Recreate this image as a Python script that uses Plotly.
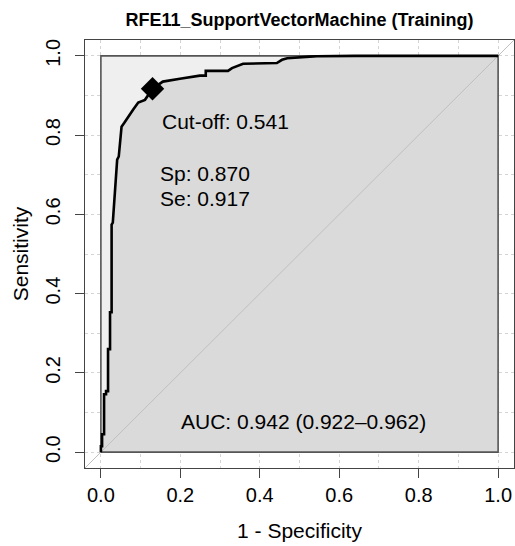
import plotly.graph_objects as go

# ---- data ----
fpr = [0.0, 0.0, 0.003, 0.003, 0.008, 0.008, 0.013, 0.013, 0.018, 0.018, 0.023, 0.023,
       0.027, 0.027, 0.030, 0.035, 0.038, 0.041, 0.045, 0.048, 0.052, 0.059, 0.068,
       0.081, 0.094, 0.111, 0.130, 0.156, 0.199, 0.224, 0.249, 0.264, 0.264, 0.320,
       0.330, 0.358, 0.393, 0.443, 0.456, 0.469, 0.526, 0.544, 0.640, 1.0]
tpr = [0.0, 0.015, 0.015, 0.045, 0.045, 0.146, 0.146, 0.154, 0.154, 0.26, 0.26, 0.353,
       0.353, 0.574, 0.579, 0.662, 0.705, 0.738, 0.746, 0.788, 0.821, 0.831, 0.846,
       0.864, 0.882, 0.889, 0.917, 0.935, 0.942, 0.946, 0.950, 0.950, 0.962, 0.962,
       0.969, 0.980, 0.981, 0.982, 0.990, 0.994, 0.998, 0.999, 1.0, 1.0]
cutoff = 0.541
sp = 0.870
se = 0.917
auc = 0.942
auc_ci = (0.922, 0.962)
title = "RFE11_SupportVectorMachine (Training)"
tick_vals = [0.0, 0.2, 0.4, 0.6, 0.8, 1.0]
tick_text = ["0.0", "0.2", "0.4", "0.6", "0.8", "1.0"]

AX = [-0.04, 1.04]
FONT = "Liberation Sans, Arial, sans-serif"
DARK = "#444444"

fig = go.Figure()

# max AUC square (light)
fig.add_trace(go.Scatter(x=[0, 1, 1, 0, 0], y=[0, 0, 1, 1, 0], mode="lines",
                         fill="toself", fillcolor="#efefef", line=dict(width=0),
                         hoverinfo="skip", showlegend=False))
# AUC polygon (darker)
fig.add_trace(go.Scatter(x=fpr + [1, 0], y=tpr + [0, 0], mode="lines",
                         fill="toself", fillcolor="#dadada", line=dict(width=0),
                         hoverinfo="skip", showlegend=False))
# diagonal reference
fig.add_trace(go.Scatter(x=AX, y=AX, mode="lines",
                         line=dict(color="#bfbfbf", width=1),
                         hoverinfo="skip", showlegend=False))
# square border
fig.add_trace(go.Scatter(x=[0, 1, 1, 0, 0], y=[0, 0, 1, 1, 0], mode="lines",
                         line=dict(color="#555555", width=1.6),
                         hoverinfo="skip", showlegend=False))
# ROC curve
fig.add_trace(go.Scatter(x=fpr, y=tpr, mode="lines",
                         line=dict(color="black", width=2.6),
                         showlegend=False))
# best threshold
fig.add_trace(go.Scatter(x=[1 - sp], y=[se], mode="markers",
                         marker=dict(symbol="diamond", size=18, color="black"),
                         showlegend=False))

txt_font = dict(family=FONT, size=21, color="black")
fig.add_annotation(x=0.149, y=0.834, xref="x", yref="y", text=f"Cut-off: {cutoff:.3f}",
                   showarrow=False, xanchor="left", yanchor="middle", font=txt_font)
fig.add_annotation(x=0.144, y=0.703, xref="x", yref="y", text=f"Sp: {sp:.3f}",
                   showarrow=False, xanchor="left", yanchor="middle", font=txt_font)
fig.add_annotation(x=0.144, y=0.640, xref="x", yref="y", text=f"Se: {se:.3f}",
                   showarrow=False, xanchor="left", yanchor="middle", font=txt_font)
fig.add_annotation(x=0.197, y=0.077, xref="x", yref="y",
                   text=f"AUC: {auc:.3f} ({auc_ci[0]:.3f}\u2013{auc_ci[1]:.3f})",
                   showarrow=False, xanchor="left", yanchor="middle", font=txt_font)

axis_common = dict(
    range=AX, tickvals=tick_vals, ticktext=tick_text,
    ticks="outside", ticklen=9, tickwidth=1, tickcolor=DARK,
    showline=True, linecolor=DARK, linewidth=1.2, mirror=True,
    showgrid=True, gridcolor="#d4d4d4", griddash="dot", gridwidth=1,
    minor=dict(dtick=0.1, tick0=0, showgrid=True, gridcolor="#d4d4d4",
               griddash="dot", gridwidth=1, ticks=""),
    zeroline=False, tickfont=dict(family=FONT, size=20, color="black"),
    fixedrange=True, automargin=False,
)

fig.update_layout(
    width=515, height=546,
    margin=dict(l=85, r=1, t=40, b=78),
    paper_bgcolor="white", plot_bgcolor="white",
    title=dict(text=f"<b>{title}</b>", x=0.5, xref="paper", xanchor="center",
               y=1, yref="container", yanchor="top", pad=dict(t=13),
               font=dict(family=FONT, size=18, color="black"), automargin=False),
    xaxis=dict(axis_common, title=dict(text="1 - Specificity", standoff=18,
                                       font=dict(family=FONT, size=21, color="black"))),
    yaxis=dict(axis_common, tickangle=-90, ticklabelstandoff=7,
               title=dict(text="Sensitivity", standoff=7,
                          font=dict(family=FONT, size=21, color="black"))),
    showlegend=False,
)

fig.write_html("out.html", config={"displayModeBar": False},
               post_script="document.body.style.margin='0';document.body.style.overflow='hidden';")
